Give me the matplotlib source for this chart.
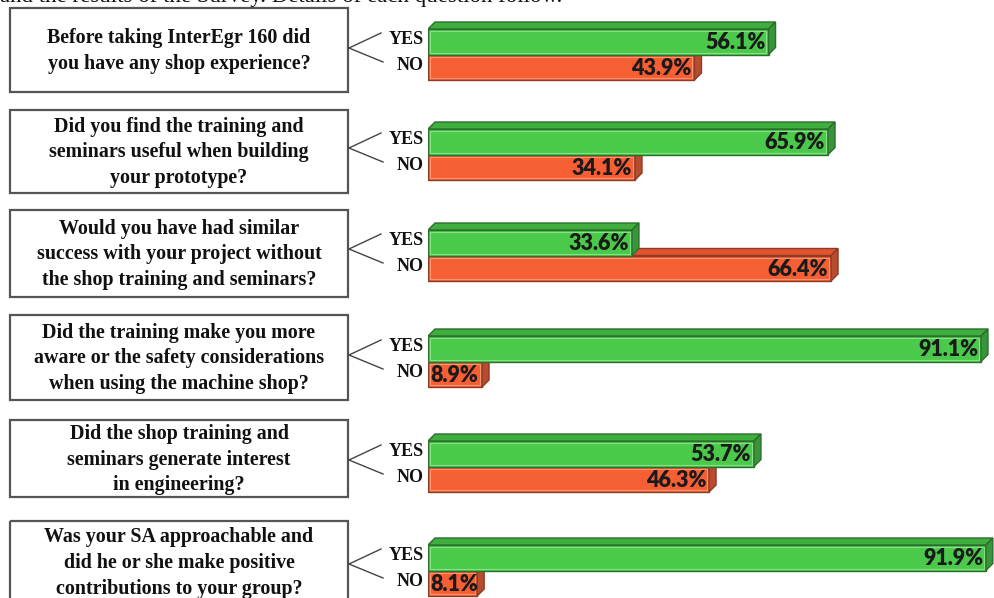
import matplotlib.pyplot as plt
from matplotlib.patches import Rectangle, Polygon

# survey data
questions = [
    'Before taking InterEgr 160 did\nyou have any shop experience?',
    'Did you find the training and\nseminars useful when building\nyour prototype?',
    'Would you have had similar\nsuccess with your project without\nthe shop training and seminars?',
    'Did the training make you more\naware or the safety considerations\nwhen using the machine shop?',
    'Did the shop training and\nseminars generate interest\nin engineering?',
    'Was your SA approachable and\ndid he or she make positive\ncontributions to your group?',
]
yes_pct = [56.1, 65.9, 33.6, 91.1, 53.7, 91.9]
no_pct = [43.9, 34.1, 66.4, 8.9, 46.3, 8.1]
answer_labels = ['YES', 'NO']

# layout (pixels, figure is 994 x 598)
W, H = 994, 598
bar_left_px = 428
px_per_pct = 6.07
bar_h = 25.5
depth = 7
yes_tops = [29, 129, 230, 336, 441, 545]
box_tops = [8, 110, 210, 315, 420, 521]
box_bots = [92, 193, 297, 400, 497, 640]
box_x0, box_x1 = 10, 348

green = dict(front='#4bc94b', top='#3fae3f', side='#37963a', edge='#2c6e2c', hi='#86e086')
orange = dict(front='#f65e34', top='#e0552f', side='#b84c2e', edge='#8e3b25', hi='#ff9470')

fig = plt.figure(figsize=(W / 100, H / 100), dpi=100)
base = fig.add_axes([0, 0, 1, 1])
base.set_xlim(0, W)
base.set_ylim(H, 0)
base.axis('off')

bx = fig.add_axes([bar_left_px / W, 0, (W - bar_left_px) / W, 1])
bx.set_xlim(0, (W - bar_left_px) / px_per_pct)
bx.set_ylim(H, 0)
bx.axis('off')
bx.patch.set_alpha(0)

ddx = depth / px_per_pct


def draw_bar(y0, val, c):
    y1 = y0 + bar_h
    bx.barh(y0 + bar_h / 2, val, height=bar_h, left=0, color=c['front'],
            edgecolor=c['edge'], linewidth=1.0, zorder=3)
    bx.add_patch(Rectangle((0.35, y0 + 2), val - 0.7, bar_h - 4, fill=False,
                           edgecolor=c['hi'], linewidth=0.8, zorder=4))
    top = Polygon([(0, y0), (ddx, y0 - depth), (val + ddx, y0 - depth), (val, y0)],
                  closed=True, facecolor=c['top'], edgecolor=c['edge'], linewidth=1.0, zorder=3)
    side = Polygon([(val, y0), (val + ddx, y0 - depth), (val + ddx, y1 - depth), (val, y1)],
                   closed=True, facecolor=c['side'], edgecolor=c['edge'], linewidth=1.0, zorder=3)
    bx.add_patch(top)
    bx.add_patch(side)
    if val < 15:
        xy, off, ha = (0, y0 + bar_h / 2 + 1), (2, 0), 'left'
    else:
        xy, off, ha = (val, y0 + bar_h / 2 + 1), (-2, 0), 'right'
    bx.annotate(f'{val:.1f}%', xy, xytext=off,
                textcoords='offset points', ha=ha, va='center',
                fontsize=15.5, fontweight='heavy', family='Lato',
                color='#1a1a1a', zorder=5)


for i, q in enumerate(questions):
    t, b = box_tops[i], box_bots[i]
    base.add_patch(Rectangle((box_x0, t), box_x1 - box_x0, b - t, fill=False,
                             edgecolor='#555555', linewidth=1.6, clip_on=False))
    cy = (t + b) / 2 + 1 if i < 5 else 563
    base.text((box_x0 + box_x1) / 2, cy, q, ha='center', va='center',
              fontsize=14.4, fontweight='bold', family='Liberation Serif',
              linespacing=1.38, color='#111111')

    yt = yes_tops[i]
    apex_y = yt + 19
    base.plot([box_x1 + 1, 381], [apex_y, yt + 4], color='#444444', lw=1.0)
    base.plot([box_x1 + 1, 383], [apex_y, yt + 33], color='#444444', lw=1.0)
    for k, lab in enumerate(answer_labels):
        base.text(424, yt + bar_h / 2 + k * bar_h - 2, lab, ha='right', va='center',
                  fontsize=13, fontweight='bold', family='Liberation Serif', color='#111111')

    # NO first so the YES bar sits on top of its upper face
    draw_bar(yt + bar_h, no_pct[i], orange)
    draw_bar(yt, yes_pct[i], green)

# clipped caption line at the very top
fig.text(0.0, 1 - 2 / H, 'and the results of the Survey. Details of each question follow.',
         ha='left', va='baseline', fontsize=16.5, family='Liberation Serif', color='#111111')

fig.savefig('out.png', dpi=100)
